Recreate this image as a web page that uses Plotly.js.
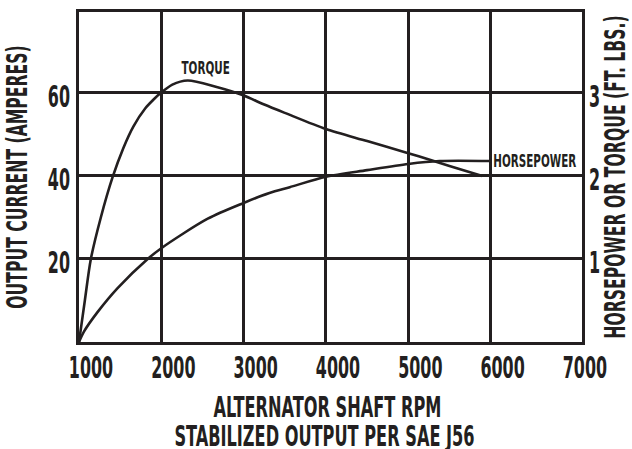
<!DOCTYPE html>
<html>
<head>
<meta charset="utf-8">
<script src="https://cdn.plot.ly/plotly-3.0.1.min.js"></script>
<style>html,body{margin:0;padding:0;background:#fff;}#chart{width:632px;height:449px;}</style>
</head>
<body>
<div id="chart"></div>
<script>
// ---- data ----
const torqueRpm = [1000, 1071, 1144, 1265, 1408, 1538, 1660, 1806, 1900, 1988, 2134, 2320, 2661, 2985, 3250, 3500, 4000, 4500, 5000, 5290, 5500, 5900];
const torqueFtLbs = [0, 0.5, 1.0, 1.5, 1.985, 2.335, 2.595, 2.815, 2.915, 2.995, 3.10, 3.15, 3.075, 2.975, 2.86, 2.76, 2.565, 2.42, 2.275, 2.185, 2.12, 2.00];
const hpRpm = [1000, 1060, 1225, 1469, 1834, 2000, 2564, 3000, 3313, 3560, 4000, 4500, 5000, 5380, 6000];
const horsepower = [0, 0.125, 0.36, 0.65, 1.00, 1.13, 1.485, 1.675, 1.795, 1.865, 1.99, 2.07, 2.145, 2.18, 2.18];
const rpmTickVals = [1000, 2000, 3000, 4000, 5000, 6000, 7000];
const rpmTickText = ['1000', '2000', '3000', '4000', '5000', '6000', '7000'];
const rpmGridVals = [2000, 3000, 4000, 5000, 6000];
const ampTickVals = [20, 40, 60];
const rightTickVals = [1, 2, 3];
const curveLabels = ['TORQUE', 'HORSEPOWER'];
const titles = {
  x1: 'ALTERNATOR SHAFT RPM',
  x2: 'STABILIZED OUTPUT PER SAE J56',
  yLeft: 'OUTPUT CURRENT (AMPERES)',
  yRight: 'HORSEPOWER OR TORQUE (FT. LBS.)'
};

const ink = '#231f20';
const FONT = '"DejaVu Sans Condensed", "DejaVu Sans", sans-serif';
const W = 'bold';
const TICK = {family: FONT, size: 30, color: ink, weight: W};
const TITLE = {family: FONT, size: 29, color: ink, weight: W};

const traces = [
  {x: torqueRpm, y: torqueFtLbs, xaxis: 'x', yaxis: 'y2', type: 'scatter', mode: 'lines',
   line: {color: ink, width: 2.6, shape: 'spline', smoothing: 0.8}, name: curveLabels[0], hoverinfo: 'skip'},
  {x: hpRpm, y: horsepower, xaxis: 'x2', yaxis: 'y2', type: 'scatter', mode: 'lines',
   line: {color: ink, width: 2.6, shape: 'spline', smoothing: 0.8}, name: curveLabels[1], hoverinfo: 'skip'},
  // carrier so the left (amperes) axis is drawn
  {x: [], y: [], xaxis: 'x', yaxis: 'y', type: 'scatter', mode: 'lines', hoverinfo: 'skip'}
];

const xRange = [1000, 7110];
const yRange = [0, 79.5];

const layout = {
  width: 632, height: 449,
  margin: {l: 79, r: 50, t: 12, b: 107},
  paper_bgcolor: '#fff', plot_bgcolor: '#fff',
  showlegend: false,
  font: {family: FONT, color: ink},
  xaxis: {
    range: xRange, tickvals: rpmGridVals, showticklabels: false,
    showgrid: true, gridcolor: ink, gridwidth: 3, zeroline: false,
    showline: true, linecolor: ink, linewidth: 3, mirror: true, ticks: '',
    title: {text: titles.x2, font: TITLE, standoff: 82}
  },
  xaxis2: {
    overlaying: 'x', matches: 'x', range: xRange, side: 'bottom', anchor: 'y',
    tickvals: rpmTickVals, ticktext: rpmTickText, showgrid: false, zeroline: false,
    ticks: '', ticklabelshift: 12, ticklabelstandoff: 5,
    tickfont: TICK,
    title: {text: titles.x1, font: TITLE, standoff: 12}
  },
  yaxis: {
    range: yRange, tickvals: ampTickVals, showgrid: true, gridcolor: ink, gridwidth: 3,
    zeroline: false, showline: true, linecolor: ink, linewidth: 3, mirror: true, ticks: '',
    ticklabelshift: 4, ticklabelstandoff: 0,
    tickfont: TICK,
    title: {text: titles.yLeft, font: TITLE, standoff: 0}
  },
  yaxis2: {
    overlaying: 'y', side: 'right', range: [yRange[0] / 20, yRange[1] / 20],
    tickvals: rightTickVals, showgrid: false, zeroline: false, showline: false, ticks: '',
    ticklabelshift: 4, ticklabelstandoff: 6,
    tickfont: TICK,
    title: {text: titles.yRight, font: TITLE, standoff: 6}
  },
  annotations: [
    {text: curveLabels[0], xref: 'x', yref: 'y2', x: 2540, y: 3.31, showarrow: false,
     font: {family: FONT, size: 18, color: ink, weight: 'bold'}},
    {text: curveLabels[1], xref: 'x', yref: 'y2', x: 6543, y: 2.185, xanchor: 'center', showarrow: false,
     font: {family: FONT, size: 18, color: ink, weight: 'bold'}}
  ]
};

// the reference uses a tall, very condensed face: narrow the glyphs of each text
function squeeze(selector, factor) {
  document.querySelectorAll(selector).forEach(function (t) {
    const lines = t.querySelectorAll('tspan.line');
    const els = lines.length ? Array.from(lines) : [t];
    els.forEach(function (e) {
      const w = e.getComputedTextLength();
      if (w > 0) {
        e.setAttribute('textLength', (w * factor).toFixed(1));
        e.setAttribute('lengthAdjust', 'spacingAndGlyphs');
      }
    });
  });
}
function nudge(selector, dx, dy) {
  const g = document.querySelector(selector);
  if (g) g.setAttribute('transform', 'translate(' + dx + ',' + dy + ')');
}

Plotly.newPlot('chart', traces, layout, {staticPlot: true, displayModeBar: false}).then(function () {
  squeeze('g.xtick text, g.x2tick text, g.ytick text, g.y2tick text', 0.59);
  squeeze('text.xtitle, text.x2title', 0.62);
  squeeze('text.ytitle, text.y2title', 0.6);
  squeeze('text.annotation-text', 0.64);
  nudge('g.g-ytitle', 3, 0);
  nudge('g.g-x2title', -3, 0);
  nudge('g.g-xtitle', -6, 0);
});
</script>
</body>
</html>
